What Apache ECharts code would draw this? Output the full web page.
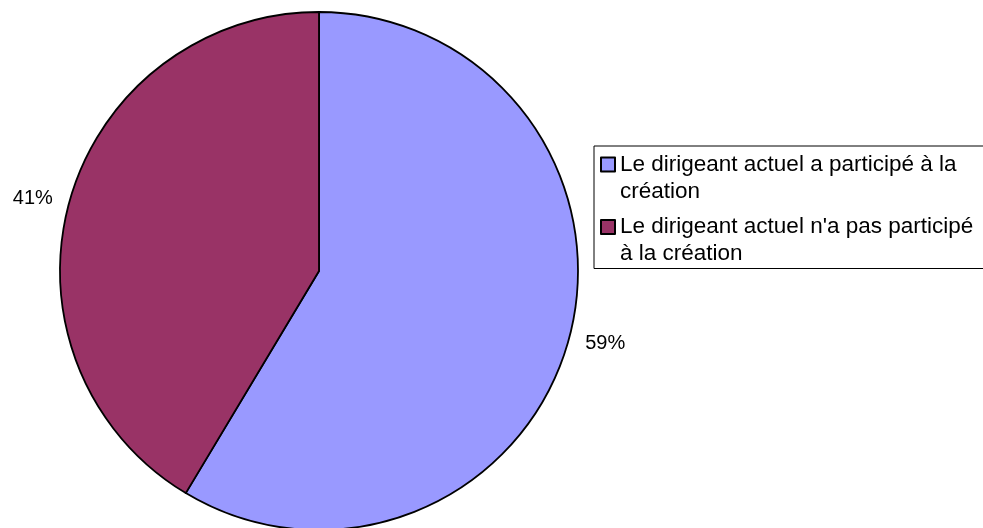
<!DOCTYPE html>
<html>
<head>
<meta charset="utf-8">
<script src="https://cdn.jsdelivr.net/npm/echarts@6/dist/echarts.min.js"></script>
<style>
  html, body { margin: 0; padding: 0; background: #fff; }
  #chart { width: 983px; height: 528px; }
</style>
</head>
<body>
<div id="chart"></div>
<script>
const categories = [
  "Le dirigeant actuel a participé à la création",
  "Le dirigeant actuel n'a pas participé à la création",
];
// shown rounded as 59% / 41%; the slice edge sits slightly short of 59%
const shares = [58.6, 41.4];
const colors = ["#9999FF", "#993366"];

const chart = echarts.init(document.getElementById("chart"), null, { renderer: "canvas" });

// square icon sitting on the first text line of a two-line legend item
const legendIcon = "path://M0,0 M14,54 M0,6.5 L14,6.5 L14,20.5 L0,20.5 Z";

const option = {
  backgroundColor: "#fff",
  animation: false,
  legend: {
    orient: "vertical",
    left: 594,
    top: 146,
    padding: [4, 40, 0, 6],
    itemWidth: 14,
    itemHeight: 54,
    itemGap: 6.5,
    icon: legendIcon,
    selectedMode: false,
    borderColor: "#000",
    borderWidth: 1,
    backgroundColor: "#fff",
    textStyle: {
      color: "#000",
      fontFamily: "Liberation Sans, Arial, sans-serif",
      fontSize: 22.5,
      lineHeight: 27,
      width: 375,
      overflow: "break",
    },
    data: categories,
  },
  series: [
    {
      type: "pie",
      center: [319, 271],
      radius: 259,
      startAngle: 90,
      clockwise: true,
      avoidLabelOverlap: false,
      data: categories.map((name, i) => ({
        name,
        value: shares[i],
        itemStyle: { color: colors[i] },
      })),
      itemStyle: { borderColor: "#000", borderWidth: 1.8 },
      label: {
        show: true,
        position: "outside",
        formatter: (p) => Math.round(p.value) + "%",
        color: "#000",
        fontFamily: "Liberation Sans, Arial, sans-serif",
        fontSize: 20,
      },
      labelLine: { show: false, length: 12, length2: 0 },
      emphasis: { disabled: true },
    },
  ],
};

chart.setOption(option);
</script>
</body>
</html>
